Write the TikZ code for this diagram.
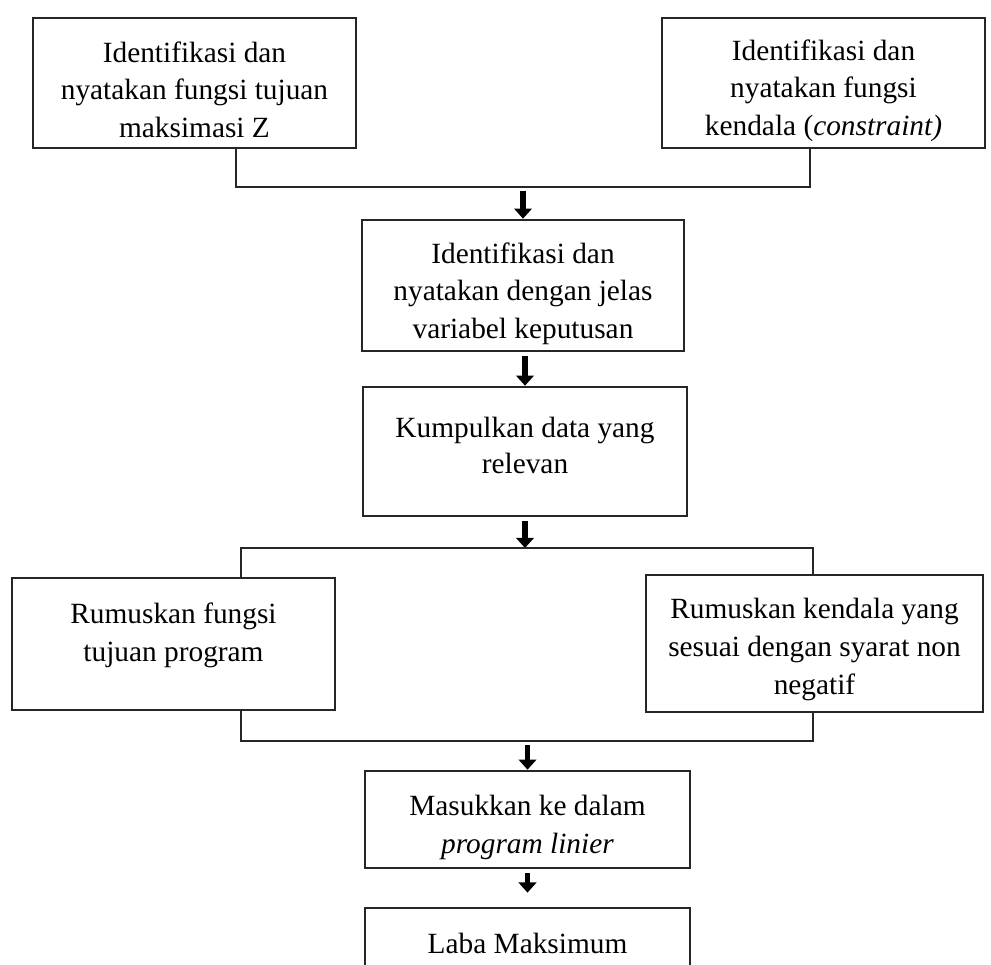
\documentclass[tikz,border=0pt]{standalone}
\usepackage{fontspec}
\setmainfont{Liberation Serif}
\usetikzlibrary{arrows.meta}

% struts that move the text down or up inside its box
\newcommand{\padtop}[1]{\rule{0pt}{#1}}
\newcommand{\padbot}[1]{\rule[-#1]{0pt}{#1}}

\tikzset{
  stepbox/.style={draw=black!85, line width=1.5pt, align=center, inner sep=0pt,
    font=\fontsize{16.7}{21.5}\selectfont},
  link/.style={line width=0.9pt, draw=black!85},
  fatarrow/.style={line width=3.3pt, -{Triangle[width=10pt,length=5.8pt]}, shorten <=2pt},
}

\begin{document}
\begin{tikzpicture}[x=0.02cm, y=-0.02cm]
  \useasboundingbox (0,0) rectangle (991,964);
  \clip (0,0) rectangle (991,964);

  % top row
  \node[stepbox, minimum width=6.46cm, minimum height=2.6cm] (tujuan) at (194.5,83)
    {\padtop{19.4pt}Identifikasi dan\\nyatakan fungsi tujuan\\maksimasi Z};
  \node[stepbox, minimum width=6.46cm, minimum height=2.6cm] (kendala) at (823.5,83)
    {\padtop{20.5pt}Identifikasi dan\\nyatakan fungsi\\kendala (\textit{constraint)}};

  % middle column
  \node[stepbox, minimum width=6.44cm, minimum height=2.62cm] (variabel) at (523,285.5)
    {\padtop{21pt}Identifikasi dan\\nyatakan dengan jelas\\variabel keputusan};
  \node[stepbox, minimum width=6.48cm, minimum height=2.58cm] (data) at (525,451.5)
    {Kumpulkan data yang\\[-1.5pt]relevan\padbot{7pt}};

  % second row
  \node[stepbox, minimum width=6.46cm, minimum height=2.64cm] (rtujuan) at (173.5,644)
    {Rumuskan fungsi\\tujuan program\padbot{13.8pt}};
  \node[stepbox, minimum width=6.74cm, minimum height=2.74cm] (rkendala) at (814.5,643.5)
    {\padtop{18.3pt}Rumuskan kendala yang\\sesuai dengan syarat non\\negatif};

  % bottom
  \node[stepbox, minimum width=6.5cm, minimum height=1.94cm] (program) at (527.5,819.5)
    {\padtop{20.5pt}Masukkan ke dalam\\\textit{program linier}};
  \node[stepbox, minimum width=6.5cm, minimum height=1.4cm] (laba) at (527.5,943)
    {Laba Maksimum};

  % junction points
  \coordinate (tl) at (236,187);
  \coordinate (tr) at (810,187);
  \coordinate (sl) at (241,548);
  \coordinate (sr) at (813,548);
  \coordinate (bl) at (241,741);
  \coordinate (br) at (813,741);

  % connectors
  \draw[link] (tujuan.south -| tl) -- (tl) -- (tr) -- (kendala.south -| tr);
  \draw[fatarrow] (variabel.north |- tl) -- (variabel.north);
  \draw[fatarrow] (data.north |- variabel.south) -- (data.north);
  \draw[fatarrow] (data.south) -- (data.south |- sl);
  \draw[link] (rtujuan.north -| sl) -- (sl) -- (sr) -- (rkendala.north -| sr);
  \draw[link] (rtujuan.south -| bl) -- (bl) -- (br) -- (rkendala.south -| br);
  \draw[fatarrow] (program.north |- bl) -- (program.north);
  \draw[fatarrow, shorten >=8pt] (program.south) -- (laba.north);
\end{tikzpicture}
\end{document}
